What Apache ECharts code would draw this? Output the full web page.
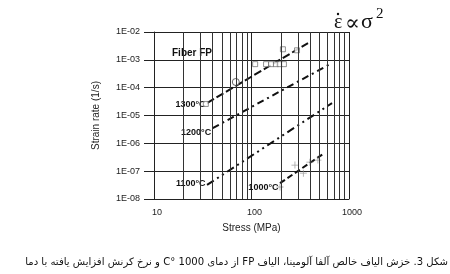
<!DOCTYPE html>
<html><head><meta charset="utf-8">
<script src="https://cdn.jsdelivr.net/npm/echarts@6/dist/echarts.min.js"></script>
<style>html,body{margin:0;padding:0;background:#fff}#c{width:450px;height:274px}</style>
</head><body><div id="c"></div>
<script>
// ---- data ----
const yTickLabels = ['1E-08','1E-07','1E-06','1E-05','1E-04','1E-03','1E-02'];
const xTickLabels = ['10','100','1000'];
const minorGridX = [20,30,40,50,60,70,80,90,200,300,400,500,600,700,800,900];

const stress1300 = [35, 380];   const rate1300 = [2.8e-5, 4.0e-3];
const stress1200 = [40, 670];   const rate1200 = [3.5e-6, 7.7e-4];
const stress1100 = [35, 670];   const rate1100 = [3.2e-8, 2.8e-5];
const stress1000 = [196, 540];  const rate1000 = [3.7e-8, 4.1e-7];

const sqStress = [34, 109, 141, 159, 178, 195, 215, 210, 293];
const sqRate   = [2.6e-5, 7e-4, 7e-4, 7e-4, 7e-4, 7e-4, 7e-4, 2.4e-3, 2.2e-3];
const circStress = [69];
const circRate   = [1.6e-4];
const plusStress = [196, 279, 340, 397, 480];
const plusRate   = [2.7e-8, 1.65e-7, 8.5e-8, 2.1e-7, 2.5e-7];

const tempLabels = ['1300°C','1200°C','1100°C','1000°C'];
const caption = 'شکل 3. خزش الیاف خالص آلفا آلومینا، الیاف FP از دمای 1000 °C و نرخ کرنش افزایش یافته با دما';

// ---- build ----
const zip = (a,b) => a.map((v,i)=>[v,b[i]]);
const font = 'Liberation Sans';
const lineBase = (name, xs, ys, dash, label, lblOff) => ({
  name, type:'line',
  data: zip(xs,ys).map((p,i)=> i===0 ? {value:p, label:{show:true, position:'left', distance:1, offset:lblOff, formatter:label, fontFamily:font, fontWeight:'bold', fontSize:9, color:'#111'}} : {value:p}),
  symbol:'circle', symbolSize:1, showSymbol:true, silent:true, z:3,
  itemStyle:{color:'rgba(0,0,0,0)'},
  lineStyle:{color:'#111', width:2, type:dash}
});

const chart = echarts.init(document.getElementById('c'), null, {renderer:'canvas'});
chart.setOption({
  animation:false,
  backgroundColor:'#fff',
  grid:{left:154, right:101, top:32, bottom:75, containLabel:false},
  xAxis:{type:'log', logBase:10, min:10, max:1000, splitNumber:2,
    axisLine:{show:true, lineStyle:{color:'#222', width:1}},
    axisTick:{show:false},
    splitLine:{show:true, lineStyle:{color:'#222', width:1}},
    axisLabel:{fontFamily:font, fontSize:9, color:'#222', margin:9, padding:[0,0,0,6],
      formatter:v=>xTickLabels[Math.round(Math.log10(v))-1]},
    name:'Stress (MPa)', nameLocation:'middle', nameGap:24,
    nameTextStyle:{fontFamily:font, fontSize:10, color:'#222'}},
  yAxis:{type:'log', logBase:10, min:1e-8, max:1e-2, splitNumber:6,
    axisLine:{show:true, lineStyle:{color:'#222', width:1}},
    axisTick:{show:true, length:10, lineStyle:{color:'#222'}},
    splitLine:{show:true, lineStyle:{color:'#222', width:1}},
    axisLabel:{fontFamily:font, fontSize:9, color:'#222', margin:14,
      formatter:v=>yTickLabels[Math.round(Math.log10(v))+8]},
    name:'Strain rate (1/s)', nameLocation:'middle', nameGap:53,
    nameTextStyle:{fontFamily:font, fontSize:10, color:'#222'}},
  series:[
    {type:'line', data:[], silent:true, z:1,
     markLine:{silent:true, symbol:'none', label:{show:false},
       lineStyle:{color:'#333', width:1, type:'solid'},
       data: minorGridX.map(v=>({xAxis:v}))}},
    lineBase('1300', stress1300, rate1300, [8,3], tempLabels[0], [0,1]),
    lineBase('1200', stress1200, rate1200, [7,4,2,4], tempLabels[1], [0,4]),
    lineBase('1100', stress1100, rate1100, [8,4,2,4,2,4], tempLabels[2], [0,-1]),
    lineBase('1000', stress1000, rate1000, [6,3], tempLabels[3], [0,4]),
    {type:'scatter', data:zip(sqStress,sqRate), symbol:'rect', symbolSize:5, z:4,
     itemStyle:{color:'#fff', borderColor:'#555', borderWidth:0.8}},
    {type:'scatter', data:zip(circStress,circRate), symbol:'circle', symbolSize:7, z:4,
     itemStyle:{color:'#fff', borderColor:'#444', borderWidth:1}},
    {type:'scatter', data:zip(plusStress,plusRate), symbol:'path://M4,0h1v4h4v1h-4v4h-1v-4h-4v-1h4z', symbolSize:7, z:4,
     itemStyle:{color:'#888'}}
  ],
  graphic:[
    {type:'text', left:172, top:48, style:{text:'Fiber FP', font:'bold 10px "Liberation Sans"', fill:'#111'}},
    {type:'text', x:334, y:23, style:{text:'ε', font:'20px "Liberation Serif"', fill:'#111', verticalAlign:'middle'}},
    {type:'circle', shape:{cx:338, cy:14, r:1.2}, style:{fill:'#111'}},
    {type:'text', x:345, y:24, style:{text:'∝', font:'22px "DejaVu Serif"', fill:'#111', verticalAlign:'middle'}},
    {type:'text', x:361, y:22, style:{text:'σ', font:'22px "Liberation Serif"', fill:'#111', verticalAlign:'middle'}},
    {type:'text', x:376, y:14, style:{text:'2', font:'15px "Liberation Serif"', fill:'#111', verticalAlign:'middle'}},
    {type:'text', x:448, y:262, style:{text:'\u202B'+caption+'\u202C', font:'10.1px "DejaVu Sans"', fill:'#111', align:'right', verticalAlign:'middle'}}
  ]
});
</script></body></html>
